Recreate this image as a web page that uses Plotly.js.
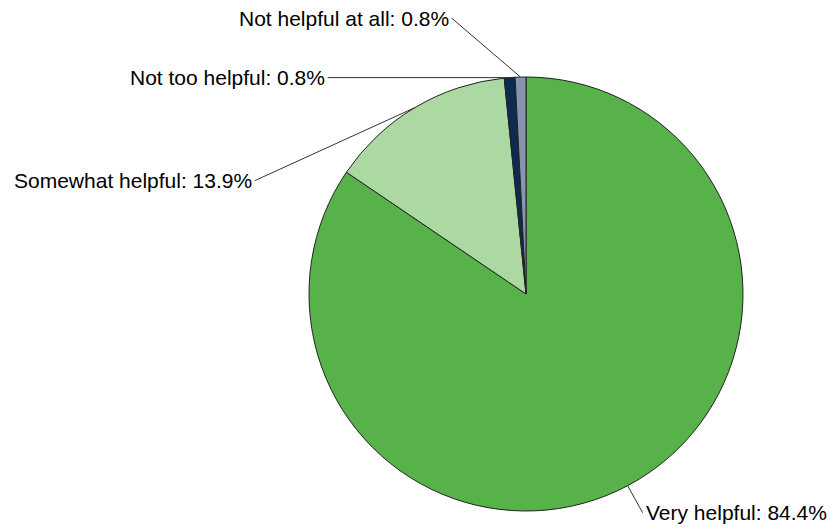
<!DOCTYPE html>
<html>
<head>
<meta charset="utf-8">
<script src="https://cdn.plot.ly/plotly-3.0.1.min.js"></script>
<style>html,body{margin:0;padding:0;background:#fff;}#chart{width:833px;height:529px;}</style>
</head>
<body>
<div id="chart"></div>
<script>
const categories = ["Very helpful", "Somewhat helpful", "Not too helpful", "Not helpful at all"];
const values = [84.4, 13.9, 0.8, 0.8];
const colors = ["#58b24a", "#acd8a2", "#0d2a4f", "#8796ae"];

const W = 833, H = 529;
const dom = {x: [309 / W, 743 / W], y: [18 / H, 452 / H]};
// label offsets (pixels from slice edge point to label anchor)
const labelOffsets = [
  {ax: 15, ay: 27, xanchor: "left"},
  {ax: -160, ay: 73, xanchor: "right"},
  {ax: -182, ay: 0, xanchor: "right"},
  {ax: -69, ay: -59, xanchor: "right"}
];

const cxPx = (dom.x[0] + dom.x[1]) / 2 * W;
const cyPx = (1 - (dom.y[0] + dom.y[1]) / 2) * H;
const rPx = Math.min((dom.x[1] - dom.x[0]) * W, (dom.y[1] - dom.y[0]) * H) / 2;
const total = values.reduce((a, b) => a + b, 0);
let cum = 0;
const annotations = categories.map((c, i) => {
  const mid = (cum + values[i] / 2) / total * 2 * Math.PI;
  cum += values[i];
  const px = cxPx + rPx * Math.sin(mid);
  const py = cyPx - rPx * Math.cos(mid);
  return {
    x: px / W, y: 1 - py / H, xref: "paper", yref: "paper",
    text: c + ": " + values[i].toFixed(1) + "%",
    showarrow: true, arrowhead: 0, arrowwidth: 1, arrowcolor: "#333333",
    ax: labelOffsets[i].ax, ay: labelOffsets[i].ay,
    xanchor: labelOffsets[i].xanchor, yanchor: "middle",
    font: {family: "Liberation Sans, Arial, sans-serif", size: 21, color: "#000000"},
    borderpad: 2
  };
});

Plotly.newPlot("chart", [{
  type: "pie",
  labels: categories,
  values: values,
  sort: false,
  direction: "clockwise",
  rotation: 0,
  textinfo: "none",
  hoverinfo: "label+percent",
  marker: {colors: colors, line: {color: "#222222", width: 1}},
  domain: dom
}], {
  width: W, height: H,
  margin: {l: 0, r: 0, t: 0, b: 0},
  showlegend: false,
  paper_bgcolor: "#ffffff",
  annotations: annotations
}, {displayModeBar: false, staticPlot: true});
</script>
</body>
</html>
